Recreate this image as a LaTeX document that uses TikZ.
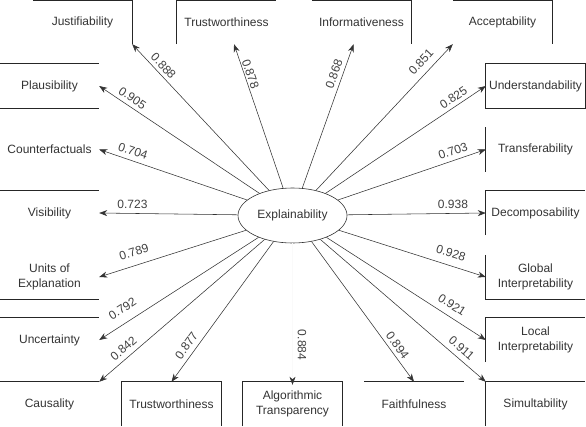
\documentclass[tikz,border=0pt]{standalone}
\usepackage{fontspec}
\setmainfont{Liberation Sans}
\usetikzlibrary{arrows.meta,shapes.geometric}
\begin{document}
\begin{tikzpicture}[x=1pt,y=-1pt,
  box/.style={minimum width=99pt, minimum height=44pt, inner sep=0pt, align=center, text=black!80, font=\fontsize{12}{14.5}\selectfont},
  edge/.style={draw=black!85, line width=0.9pt},
  conn/.style={draw=black!80, line width=0.55pt, -{Stealth[length=8pt,width=6pt,inset=2.5pt]}},
  lab/.style={font=\fontsize{12}{14}\selectfont, text=black!75, inner sep=0pt}]
\useasboundingbox (0,0) rectangle (586,426);
% top row
\node[box] (J) at (82.5,22) {Justifiability};
\node[box] (T1) at (226.5,22) {Trustworthiness};
\node[box] (I) at (361.5,22) {Informativeness};
\node[box] (A) at (502.5,22) {Acceptability};
% left column
\node[box] (P) at (49.5,86) {Plausibility};
\node[box] (C) at (49.5,149.5) {Counterfactuals};
\node[box] (V) at (49.5,213) {Visibility};
\node[box] (U) at (49.5,277) {Units of\\Explanation};
\node[box] (Un) at (49.5,340) {Uncertainty};
\node[box] (Ca) at (49.5,404) {Causality};
% bottom row
\node[box] (T2) at (171.5,404) {Trustworthiness};
\node[box] (Al) at (292.5,404) {Algorithmic\\Transparency};
\node[box] (F) at (414,404) {Faithfulness};
% right column
\node[box] (Us) at (535.5,86) {Understandability};
\node[box] (Tr) at (535.5,149.5) {Transferability};
\node[box] (D) at (535.5,213) {Decomposability};
\node[box] (G) at (535.5,277) {Global\\Interpretability};
\node[box] (Lo) at (535.5,340) {Local\\Interpretability};
\node[box] (Si) at (535.5,404) {Simultability};
% visible box edges
\draw[edge] ([yshift=-0.5pt]J.north west) -- ([yshift=-0.5pt]J.north east) -- (J.south east);
\draw[edge] (T1.south west) -- ([yshift=-0.5pt]T1.north west) -- ([yshift=-0.5pt]T1.north east);
\draw[edge] ([yshift=-0.5pt]I.north west) -- ([yshift=-0.5pt]I.north east) -- (I.south east);
\draw[edge] ([yshift=-0.5pt]A.north west) -- ([yshift=-0.5pt]A.north east) -- (A.south east);
\draw[edge] (P.north west) -- (P.north east);
\draw[edge] (P.south west) -- (P.south east);
\draw[edge] (V.north west) -- (V.north east);
\draw[edge] (U.south west) -- (U.south east);
\draw[edge] (Un.north west) -- (Un.north east);
\draw[edge] (Ca.north west) -- (Ca.north east);
\draw[edge] (T2.south west) -- (T2.north west) -- (T2.north east) -- (T2.south east);
\draw[edge] (Al.south west) -- (Al.north west) -- (Al.north east) -- (Al.south east);
\draw[edge] (F.north west) -- (F.north east);
\draw[edge] (Us.north west) rectangle (Us.south east);
\draw[edge] (Tr.north west) -- (Tr.south west);
\draw[edge] (D.south west) -- (D.north west) -- (D.north east);
\draw[edge] (G.north west) -- (G.south west) -- (G.south east);
\draw[edge] (Lo.south west) -- (Lo.north west) -- (Lo.north east);
\draw[edge] (Si.south west) -- (Si.north west) -- (Si.north east);
% centre
\node[ellipse, draw=black!80, line width=0.6pt, minimum width=109pt, minimum height=55pt, inner sep=0pt,
  font=\fontsize{12}{14}\selectfont, text=black!80] (E) at (292.5,215.5) {Explainability};
% connectors
\draw[conn] (E) -- (J.south east);
\draw[conn] (E) -- (T1);
\draw[conn] (E) -- (I);
\draw[conn] (E) -- (A.south west);
\draw[conn] (E) -- (P.east);
\draw[conn] (E) -- (C.east);
\draw[conn] (E) -- (V.east);
\draw[conn] (E) -- (U.east);
\draw[conn] (E) -- (Un.east);
\draw[conn] (E) -- (Ca.north east);
\draw[conn] (E) -- (T2.north);
\draw[conn, draw=black!2, -{Stealth[length=8pt,width=6pt,inset=2.5pt,color=black!80]}] (E) -- ([yshift=-3pt]Al.north);
\draw[conn] (E) -- (F.north);
\draw[conn] (E) -- (Si.north west);
\draw[conn] (E) -- (Lo.west);
\draw[conn] (E) -- (G.west);
\draw[conn] (E) -- (D.west);
\draw[conn] (E) -- (Tr.west);
\draw[conn] (E) -- (Us.west);
% labels
\node[lab, rotate=-47] (l1) at (163.5,66) {0.888};
\node[lab, rotate=-71] (l2) at (250.5,74) {0.878};
\node[lab, rotate=70] (l3) at (334,74) {0.868};
\node[lab, rotate=47] (l4) at (421,62) {0.851};
\node[lab, rotate=-33.8] (l5) at (132.5,98) {0.905};
\node[lab, rotate=-18.7] (l6) at (133,151) {0.704};
\node[lab] (l7) at (132.5,204) {0.723};
\node[lab, rotate=17.8] (l8) at (134,252) {0.789};
\node[lab, rotate=32.9] (l9) at (122.5,308.5) {0.792};
\node[lab, rotate=41] (l10) at (123.5,348.5) {0.842};
\node[lab, rotate=54.4] (l11) at (186.5,345.5) {0.877};
\node[lab, rotate=-90] (l12) at (302,345) {0.884};
\node[lab, rotate=-54] (l13) at (397.5,345.5) {0.894};
\node[lab, rotate=-40.9] (l14) at (461.5,348) {0.911};
\node[lab, rotate=-32.8] (l15) at (452,305) {0.921};
\node[lab, rotate=-17.7] (l16) at (451,253.5) {0.928};
\node[lab] (l17) at (453,204) {0.938};
\node[lab, rotate=18.7] (l18) at (453,151) {0.703};
\node[lab, rotate=33.6] (l19) at (453.5,97.5) {0.825};
\end{tikzpicture}
\end{document}
